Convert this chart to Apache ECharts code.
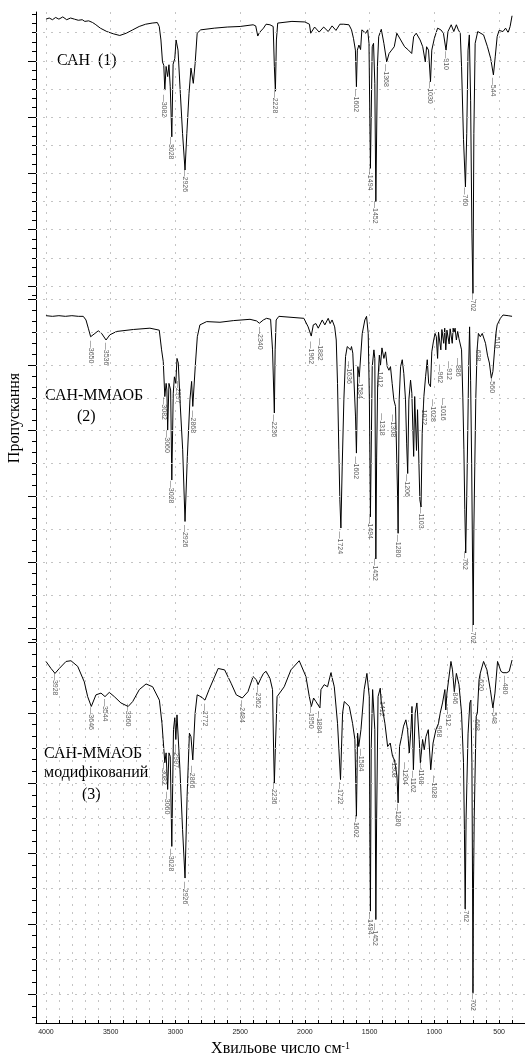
<!DOCTYPE html>
<html><head><meta charset="utf-8">
<script src="https://cdn.jsdelivr.net/npm/echarts@6/dist/echarts.min.js"></script>
<style>html,body{margin:0;padding:0;background:#fff}#c{width:525px;height:1058px}</style>
</head><body><div id="c"></div>
<script>
// ---- DATA: [wavenumber cm-1, transmittance (arb. units of each panel)] ----
const spectrum1 = [
[4000,57.4],[3975,57.6],[3950,57.3],[3925,57.7],[3900,57.4],[3870,57.8],[3840,57.3],[3810,57.6],[3780,57.4],[3750,57.2],[3720,57.3],[3700,57.0],[3670,57.1],[3640,56.8],[3620,56.5],[3580,55.8],[3530,55.2],[3480,54.8],[3430,54.5],[3380,54.9],[3330,55.5],[3280,56.1],[3230,56.5],[3180,56.7],[3140,56.8],[3125,56.1],[3112,53.7],[3100,49.8],[3090,49.2],[3082,44.8],[3072,49.0],[3060,47.2],[3050,49.3],[3040,45.4],[3028,36.5],[3018,49.4],[3005,50.4],[2995,53.7],[2980,51.9],[2962,44.2],[2945,37.1],[2926,30.6],[2912,37.1],[2895,44.2],[2880,48.7],[2862,46.0],[2848,49.5],[2832,54.9],[2805,55.5],[2700,55.8],[2600,56.0],[2500,56.1],[2400,56.4],[2380,56.2],[2364,54.4],[2352,55.0],[2340,54.9],[2320,55.8],[2300,56.5],[2270,56.4],[2245,56.1],[2236,49.0],[2228,44.6],[2220,53.7],[2210,56.7],[2100,57.0],[2000,56.9],[1965,56.5],[1955,54.9],[1925,56.0],[1890,55.1],[1855,56.0],[1820,55.2],[1790,56.2],[1760,55.4],[1730,56.5],[1700,56.5],[1660,56.4],[1640,55.5],[1625,54.0],[1610,51.9],[1602,45.4],[1595,51.9],[1583,52.8],[1570,52.0],[1560,55.5],[1545,55.8],[1530,54.9],[1515,55.5],[1505,53.1],[1494,30.9],[1480,52.5],[1470,53.1],[1460,46.0],[1452,25.0],[1440,49.0],[1430,54.3],[1410,55.6],[1390,53.1],[1368,49.8],[1350,51.3],[1330,51.9],[1310,52.5],[1290,54.9],[1260,53.7],[1230,52.5],[1200,51.9],[1185,52.2],[1175,51.3],[1160,54.3],[1140,54.9],[1110,53.7],[1090,52.5],[1070,49.8],[1060,52.5],[1045,51.9],[1030,46.3],[1020,51.9],[1000,54.0],[975,55.8],[950,55.5],[930,54.9],[910,51.9],[895,55.2],[870,56.4],[850,55.2],[830,56.4],[815,55.5],[800,54.9],[790,49.0],[775,36.0],[760,27.6],[750,37.1],[740,51.9],[730,54.6],[720,43.0],[710,19.4],[702,8.7],[695,37.1],[685,53.1],[665,55.2],[655,55.4],[620,54.6],[590,52.5],[565,50.4],[544,47.5],[530,50.7],[515,54.3],[500,55.4],[470,55.2],[450,55.8],[430,55.0],[415,56.1],[400,58.0]
];
const spectrum2 = [
[4000,57.5],[3950,57.4],[3900,57.5],[3850,57.4],[3800,57.5],[3750,57.4],[3712,57.4],[3691,56.85],[3673,55.6],[3655,54.3],[3645,54.1],[3622,54.8],[3596,55.2],[3570,54.8],[3536,53.8],[3506,54.6],[3454,55.1],[3325,55.4],[3197,55.6],[3125,55.3],[3107,52.3],[3094,50.5],[3082,45.2],[3072,47.2],[3066,46.2],[3060,40.1],[3050,47.2],[3037,46.2],[3028,32.5],[3017,45.7],[3008,48.2],[2997,47.2],[2988,51.0],[2978,50.3],[2965,44.7],[2944,37.1],[2926,26.2],[2908,36.1],[2888,44.7],[2875,47.5],[2866,43.7],[2847,49.75],[2831,54.3],[2811,56.1],[2759,56.6],[2656,56.5],[2553,56.75],[2424,56.95],[2373,56.7],[2352,56.35],[2340,56.2],[2321,56.85],[2296,57.1],[2265,56.95],[2250,52.3],[2236,42.7],[2230,52.3],[2222,56.85],[2201,57.4],
[2008,57.1],[1975,55.8],[1951,54.4],[1935,56.1],[1915,56.3],[1897,55.6],[1886,55.3],[1866,56.85],[1846,56.1],[1820,57.1],[1805,56.3],[1790,56.85],[1770,55.8],[1758,53.8],[1748,47.2],[1738,37.1],[1730,29.5],[1722,25.2],[1712,34.5],[1699,44.7],[1686,51.3],[1673,52.8],[1660,53.05],[1647,52.3],[1640,52.8],[1630,51.8],[1615,51.5],[1609,42.1],[1602,36.6],[1591,49.75],[1580,48.2],[1557,54.8],[1537,56.85],[1524,57.4],[1511,54.8],[1502,44.7],[1494,26.9],[1480,49.75],[1467,52.3],[1460,51.0],[1456,36.0],[1452,20.5],[1446,36.0],[1438,47.0],[1425,51.5],[1416,50.0],[1405,52.6],[1390,51.0],[1377,52.0],[1364,49.75],[1351,49.2],[1339,49.75],[1326,47.2],[1313,44.7],[1300,43.7],[1290,43.7],[1284,30.0],[1280,24.4],[1272,44.7],[1261,49.75],[1248,50.8],[1236,48.7],[1223,44.7],[1214,38.0],[1206,33.5],[1197,44.7],[1184,47.7],[1174,45.7],[1160,36.1],[1152,45.2],[1145,45.0],[1138,37.0],[1130,43.2],[1112,29.5],[1103,28.4],[1094,39.6],[1081,45.2],[1072,45.0],[1068,48.2],[1055,50.8],[1044,47.2],[1030,46.7],[1020,52.0],[1008,53.5],[995,54.8],[985,54.3],[975,51.0],[968,55.0],[958,55.3],[950,52.3],[942,55.4],[935,55.6],[928,53.3],[920,55.6],[912,52.3],[903,55.3],[895,55.6],[886,53.2],[878,55.5],[870,55.6],[862,53.3],[855,55.6],[848,55.0],[840,55.6],[830,53.8],[820,55.1],[810,54.0],[800,54.3],[790,52.3],[780,45.0],[772,37.1],[765,28.0],[758,21.4],[750,30.0],[742,40.0],[735,49.75],[728,55.8],[720,47.6],[712,35.0],[705,20.0],[700,10.45],[695,25.0],[688,34.5],[680,45.0],[670,52.3],[660,54.8],[650,54.6],[645,54.3],[638,54.1],[630,54.8],[620,54.8],[605,53.3],[590,51.5],[575,50.3],[560,48.0],[548,49.0],[535,52.3],[525,54.8],[515,56.1],[510,55.8],[502,56.35],[490,57.1],[470,57.6],[430,57.5],[400,57.4]
];
const spectrum3 = [
[4000,57.3],[3961,56.3],[3930,55.6],[3897,56.3],[3845,57.3],[3807,57.4],[3755,56.6],[3704,54.4],[3678,52.3],[3650,50.9],[3614,52.55],[3575,52.8],[3544,52.3],[3511,52.9],[3472,52.3],[3421,51.4],[3365,50.9],[3330,51.6],[3279,53.3],[3227,54.1],[3176,53.7],[3124,51.8],[3104,48.5],[3095,46.2],[3082,42.9],[3072,44.3],[3060,39.1],[3050,44.3],[3040,43.8],[3028,31.0],[3015,47.6],[3005,49.3],[2997,46.2],[2988,49.7],[2965,41.9],[2945,33.4],[2926,26.5],[2910,38.1],[2892,47.1],[2880,46.6],[2866,43.3],[2848,49.95],[2832,52.55],[2815,52.4],[2790,52.1],[2772,51.8],[2740,53.3],[2670,56.3],[2620,56.1],[2570,54.2],[2530,52.55],[2484,52.1],[2440,53.0],[2400,55.15],[2375,54.7],[2362,54.0],[2340,54.9],[2320,55.6],[2300,55.9],[2270,54.9],[2250,53.3],[2242,45.0],[2236,40.0],[2228,45.0],[2215,52.3],[2200,52.3],[2160,53.7],[2108,56.1],[2044,57.4],[1992,55.15],[1966,52.3],[1950,50.9],[1933,52.1],[1915,51.6],[1884,50.7],[1876,53.3],[1851,54.0],[1825,53.7],[1799,55.7],[1773,53.7],[1748,48.5],[1725,40.5],[1709,49.95],[1696,51.6],[1657,50.9],[1632,48.5],[1614,46.2],[1602,35.3],[1593,47.1],[1584,45.2],[1567,47.6],[1542,53.3],[1521,55.6],[1503,52.3],[1498,31.0],[1494,21.8],[1488,45.0],[1477,53.3],[1470,53.5],[1460,47.6],[1456,35.0],[1452,20.6],[1446,35.0],[1435,52.3],[1418,53.5],[1412,51.8],[1400,51.6],[1382,48.5],[1361,45.2],[1341,45.7],[1323,43.8],[1308,43.3],[1289,41.0],[1280,37.2],[1269,45.2],[1253,46.6],[1238,48.1],[1220,49.0],[1207,47.6],[1194,44.3],[1181,47.6],[1173,50.9],[1162,41.9],[1148,49.95],[1135,51.4],[1117,46.2],[1108,42.9],[1091,46.2],[1078,44.75],[1065,46.6],[1047,47.6],[1035,47.6],[1028,41.9],[1010,45.7],[988,47.6],[968,48.5],[955,49.95],[937,51.4],[919,53.3],[912,50.4],[903,52.8],[893,52.8],[872,57.3],[860,56.1],[846,53.0],[830,55.6],[810,54.0],[790,49.95],[775,42.9],[768,33.4],[762,22.1],[755,35.0],[740,47.0],[726,51.4],[718,51.8],[710,42.9],[705,25.0],[702,10.2],[698,25.0],[692,35.3],[677,49.5],[668,49.95],[655,54.7],[646,55.6],[635,55.6],[620,57.3],[594,56.1],[568,53.3],[548,50.7],[532,52.8],[512,57.3],[486,55.9],[470,55.7],[460,55.6],[440,55.7],[422,55.9],[400,57.5]
];
// peak labels: [text, wavenumber where the label sits, transmittance where its leader starts]
const peaks1 = [['3082',3082,43.9],['3028',3028,36.4],['2926',2926,30.6],['2228',2228,44.6],['1602',1602,44.8],['1494',1494,30.9],['1452',1452,25.0],['1368',1368,49.3],['1030',1030,46.3],['910',910,51.6],['760',760,27.4],['702',702,8.7],['544',544,46.9]];
const peaks2 = [['3650',3645,53.6],['3536',3536,53.3],['3082',3082,45.0],['3060',3060,40.0],['3028',3028,32.3],['2997',2980,47.5],['2926',2926,25.6],['2868',2864,43.0],['2340',2340,55.7],['2236',2236,42.4],['1962',1951,53.5],['1882',1883,54.0],['1724',1722,24.6],['1636',1655,50.5],['1602',1602,36.0],['1584',1572,48.2],['1494',1494,26.9],['1452',1452,20.5],['1412',1416,50.0],['1318',1398,42.6],['1308',1313,42.4],['1280',1280,24.1],['1206',1206,33.3],['1103',1103,28.4],['1072',1076,44.2],['1028',1004,44.7],['1016',927,44.9],['962',952,50.0],['912',883,50.5],['886',811,51.0],['762',759,21.6],['702',700,10.4],['638',656,53.3],['560',553,48.5],['510',510,55.3]];
const peaks3 = [['3928',3930,55.6],['3646',3650,50.7],['3544',3544,51.9],['3360',3365,51.2],['3082',3082,42.9],['3060',3060,38.7],['3028',3028,30.6],['2997',2990,45.3],['2926',2926,25.9],['2866',2866,42.4],['2772',2772,51.2],['2484',2484,51.7],['2362',2362,53.8],['2236',2236,40.1],['1950',1950,50.9],['1884',1884,50.2],['1722',1725,40.1],['1602',1602,35.4],['1584',1567,44.8],['1494',1494,21.6],['1452',1452,20.0],['1412',1400,52.6],['1308',1308,43.9],['1280',1280,37.0],['1204',1225,42.9],['1162',1162,41.7],['1108',1099,42.9],['1028',1001,41.0],['968',962,49.1],['912',893,50.7],['846',839,53.8],['762',756,22.8],['702',702,10.2],['668',666,50.0],['620',635,55.7],['548',538,51.0],['480',453,55.2]];
const xLabelValues = [4000,3500,3000,2500,2000,1500,1000,500];
const yMajorValues = [10,20,30,40,50,60];
const panelTexts = [
  {text:'САН  (1)', x:57, y:61},
  {text:'САН-ММАОБ', x:45, y:396},
  {text:'(2)', x:77, y:417},
  {text:'САН-ММАОБ', x:44, y:754},
  {text:'модифікований', x:44, y:773},
  {text:'(3)', x:82, y:795}
];

// ---- layout / style ----
const X_MIN = 300, X_MAX = 4077;
const panels = [
  {top:12, height:286, yMin:7.87, yMax:58.67, data:spectrum1, peaks:peaks1},
  {top:298, height:342, yMin:8.17, yMax:60.19, data:spectrum2, peaks:peaks2},
  {top:640, height:384, yMin:5.89, yMax:60.35, data:spectrum3, peaks:peaks3}
];
const minorX = [];
for (let v = 400; v <= 4000; v += 100) minorX.push(v);
const SERIF = '"Liberation Serif","Times New Roman",serif';
const SANS = '"Liberation Sans",Arial,sans-serif';
const dotted = {color:'#c4c4c4', width:1, type:[2,6]};

const grid = [], xAxis = [], yAxis = [], series = [];
panels.forEach((p, i) => {
  grid.push({left:36, right:0, top:p.top, height:p.height, containLabel:false});
  const last = i === panels.length - 1;
  xAxis.push({
    gridIndex:i, type:'value', min:X_MIN, max:X_MAX, inverse:true, splitNumber:8,
    axisLine:{show:last, onZero:false, lineStyle:{color:'#000', width:1}},
    axisTick: last ? {show:true, inside:true, length:3, customValues:minorX, lineStyle:{color:'#000'}} : {show:false},
    axisLabel: last ? {show:true, customValues:xLabelValues, formatter: v => String(v), fontSize:7, color:'#222', margin:6, fontFamily:SANS} : {show:false},
    splitLine:{show:true, lineStyle:dotted},
    name: last ? '{t|Хвильове число см}{s|-1}' : '',
    nameLocation:'middle', nameGap:18,
    nameTextStyle:{rich:{
      t:{fontSize:16, fontFamily:SERIF, color:'#000'},
      s:{fontSize:10, fontFamily:SERIF, color:'#000', verticalAlign:'top', padding:[0,0,6,0]}
    }}
  });
  const majors = yMajorValues.filter(v => v >= p.yMin && v <= p.yMax);
  const minors = [];
  for (let k = -12; k <= 40; k++) { const v = 10 + k * 10 / 6; if (v >= p.yMin && v <= p.yMax) minors.push(+v.toFixed(3)); }
  const halves = [];
  for (let v = 5; v <= 60; v += 5) if (v > p.yMin && v < p.yMax) halves.push(v);
  yAxis.push({
    gridIndex:i, type:'value', min:p.yMin, max:p.yMax, position:'left',
    axisLine:{show:true, onZero:false, lineStyle:{color:'#000', width:1}},
    axisTick:{show:true, length:8, customValues:majors, lineStyle:{color:'#000'}},
    axisLabel:{show:false}, splitLine:{show:false}
  });
  yAxis.push({
    gridIndex:i, type:'value', min:p.yMin, max:p.yMax, position:'left',
    axisLine:{show:false},
    axisTick:{show:true, length:4, customValues:minors, lineStyle:{color:'#000'}},
    axisLabel:{show:false}, splitLine:{show:false}
  });
  series.push({
    type:'line', xAxisIndex:i, yAxisIndex:2*i, data:p.data, showSymbol:false, symbol:'none',
    lineStyle:{color:'#000', width:1}, animation:false, silent:true, z:3,
    markLine:{silent:true, symbol:'none', label:{show:false}, lineStyle:dotted, animation:false,
      data: halves.map(v => ({yAxis:v}))}
  });
  series.push({
    type:'scatter', xAxisIndex:i, yAxisIndex:2*i, symbolSize:1, itemStyle:{color:'rgba(0,0,0,0)'},
    data: p.peaks.map(q => ({name:q[0], value:[q[1], q[2]]})),
    label:{show:true, position:[0,0], formatter:'—{b}', rotate:-90, align:'left', verticalAlign:'middle',
      fontSize:7, color:'#333', fontFamily:SANS},
    animation:false, silent:true, z:5
  });
});

const graphic = panelTexts.map(t => ({
  type:'text', x:t.x, y:t.y,
  style:{text:t.text, font:'16px ' + SERIF, fill:'#000', textVerticalAlign:'middle'}
}));
graphic.push({type:'text', x:15, y:418, rotation:Math.PI/2,
  style:{text:'Пропускання', font:'16px ' + SERIF, fill:'#000', textAlign:'center', textVerticalAlign:'middle'}});

const chart = echarts.init(document.getElementById('c'), null, {renderer:'canvas'});
chart.setOption({animation:false, backgroundColor:'#fff', grid, xAxis, yAxis, series, graphic});
</script>
</body></html>
